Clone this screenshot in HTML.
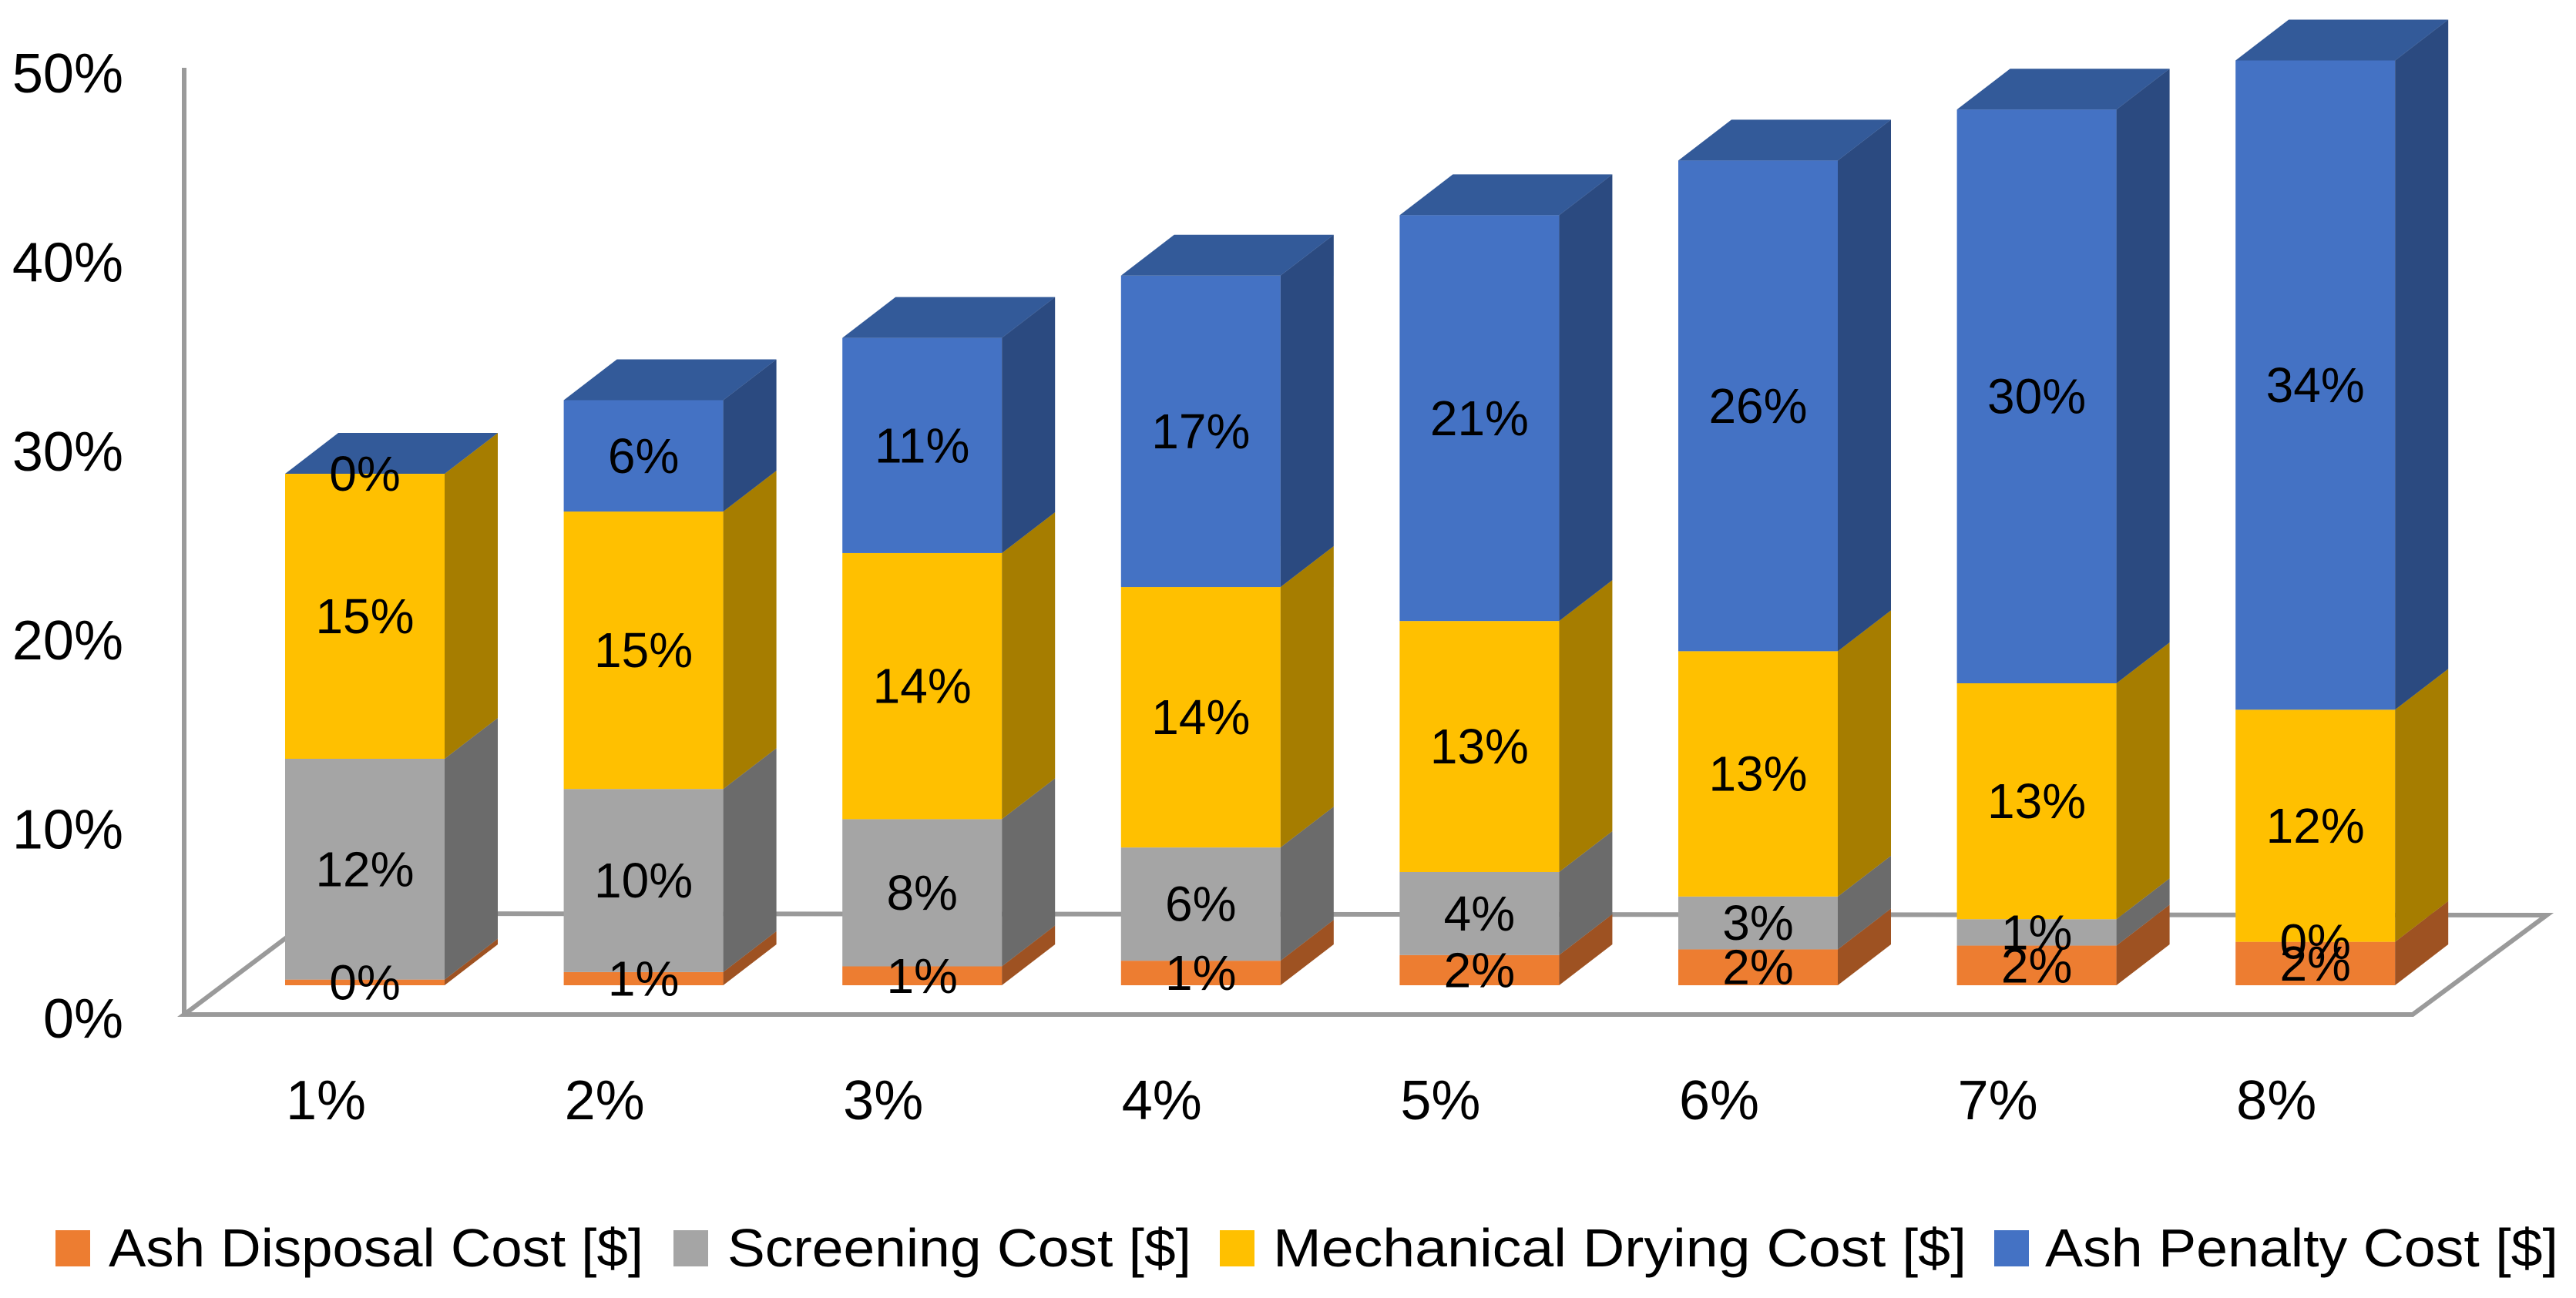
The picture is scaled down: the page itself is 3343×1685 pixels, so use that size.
<!DOCTYPE html>
<html><head><meta charset="utf-8"><style>
html,body{margin:0;padding:0;background:#fff;}
svg{display:block;font-family:"Liberation Sans",sans-serif;}
</style></head><body>
<svg id="chart" width="3343" height="1685" viewBox="0 0 3343 1685" xmlns="http://www.w3.org/2000/svg">
<g id="floor"></g>
<g id="bars"></g>
<g id="labels"></g>
<g id="axes"></g>
<g id="legend"></g>
</svg>
<script>
const categories = ["1%","2%","3%","4%","5%","6%","7%","8%"];
const seriesNames = ["Ash Disposal Cost [$]","Screening Cost [$]","Mechanical Drying Cost [$]","Ash Penalty Cost [$]"];
const ashDisposal = [0.3,0.7,1.0,1.3,1.6,1.9,2.1,2.3];
const screening = [11.7,9.7,7.8,6.0,4.4,2.8,1.4,0.0];
const mechDrying = [15.1,14.7,14.1,13.8,13.3,13.0,12.5,12.3];
const ashPenalty = [0.0,5.9,11.4,16.5,21.5,26.0,30.4,34.4];
const ashDisposalLbl = ["0%","1%","1%","1%","2%","2%","2%","2%"];
const screeningLbl = ["12%","10%","8%","6%","4%","3%","1%","0%"];
const mechDryingLbl = ["15%","15%","14%","14%","13%","13%","13%","12%"];
const ashPenaltyLbl = ["0%","6%","11%","17%","21%","26%","30%","34%"];
const yTicks = ["0%","10%","20%","30%","40%","50%"];

const NS="http://www.w3.org/2000/svg";
const series=[ashDisposal,screening,mechDrying,ashPenalty];
const seriesLbl=[ashDisposalLbl,screeningLbl,mechDryingLbl,ashPenaltyLbl];
const frontCol=["#ED7D31","#A5A5A5","#FFC000","#4472C4"];
const sideCol=["#9E5222","#6B6B6B","#A67D00","#2B4A80"];
const topCol=["#B8602A","#858585","#C99700","#335A99"];
const PX=24.5, BASE=1279, X0=370, STEP=361.6, W=207, DX=69, DY=-53;
const yScale=v=>BASE-v*PX;
const xScale=i=>X0+i*STEP;
function el(tag,attrs,parent){const e=document.createElementNS(NS,tag);for(const k in attrs)e.setAttribute(k,attrs[k]);parent.appendChild(e);return e;}
function poly(pts){return pts.map(p=>p.join(",")).join(" ");}

const fl=document.getElementById("floor");
const floorPoly=el("polygon",{points:poly([[239,1317],[413,1186],[3305,1188],[3131,1317]]),fill:"none",stroke:"#9a9a9a","stroke-width":6},fl);


const wall=el("line",{x1:239,y1:88,x2:239,y2:1317,stroke:"#9a9a9a","stroke-width":6},fl);



const bg=document.getElementById("bars"), lg=document.getElementById("labels");
categories.forEach((c,i)=>{
  const x=xScale(i); let cum=0;
  const g=el("g",{},bg);
  
  
  series.forEach((s,k)=>{
    const v=s[i]; const y0=yScale(cum), y1=yScale(cum+v); cum+=v;
    if(v>0){
      const f=el("rect",{x:x,y:y1,width:W,height:y0-y1,fill:frontCol[k]},g);
      
      
      const sd=el("polygon",{points:poly([[x+W,y0],[x+W+DX,y0+DY],[x+W+DX,y1+DY],[x+W,y1]]),fill:sideCol[k]},g);
      
      
    }
    const ly=(y0+y1)/2;
    const t=el("text",{x:x+W/2,y:ly+22,"text-anchor":"middle","font-size":64,fill:"#000"},lg);
    t.textContent=seriesLbl[k][i];
    
    
  });
  const yt=yScale(cum);
  const tp=el("polygon",{points:poly([[x,yt],[x+DX,yt+DY],[x+W+DX,yt+DY],[x+W,yt]]),fill:topCol[3]},g);
  
  
});

const ax=document.getElementById("axes");
yTicks.forEach((t,i)=>{
  const e=el("text",{x:160,y:1321-i*245.4+26,"text-anchor":"end","font-size":72,fill:"#000"},ax);
  e.textContent=t;
  
  
});
categories.forEach((c,i)=>{
  const e=el("text",{x:xScale(i)+53,y:1453,"text-anchor":"middle","font-size":72,fill:"#000"},ax);
  e.textContent=c;
  
  
});

const lgd=document.getElementById("legend");
const legSq=[72,874,1583,2588], legTx=[141,944,1652,2654], legEnd=[835,1546,2552,3320];
seriesNames.forEach((n,k)=>{
  const g=el("g",{},lgd);
  
  
  const r=el("rect",{x:legSq[k],y:1597,width:45,height:47,fill:frontCol[k]},g);
  
  
  const t=el("text",{x:legTx[k],y:1644,"font-size":70,fill:"#000",textLength:legEnd[k]-legTx[k],lengthAdjust:"spacingAndGlyphs"},g);
  t.textContent=n;
  
  
});
</script>
</body></html>
